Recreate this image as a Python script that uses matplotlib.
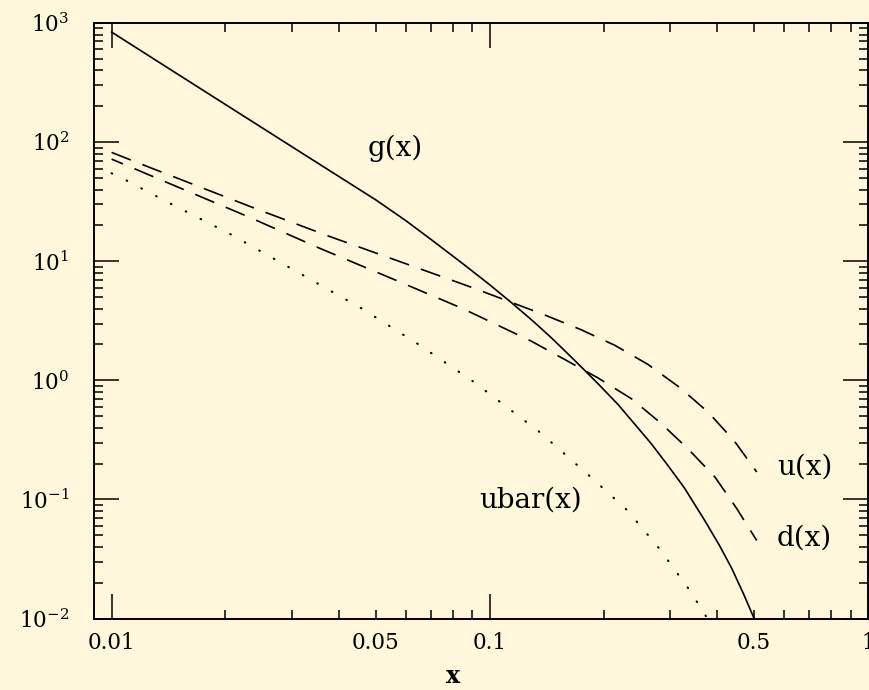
import math
import matplotlib
matplotlib.use("Agg")
import matplotlib.pyplot as plt
from matplotlib.ticker import FixedLocator, LogLocator, FuncFormatter, NullFormatter

# parton densities (x, x-dependent density)
g_x = [0.01, 0.015, 0.02, 0.03, 0.04, 0.05, 0.06, 0.07, 0.085, 0.1, 0.114, 0.13, 0.145, 0.16, 0.177,
       0.195, 0.218, 0.24, 0.267, 0.295, 0.327, 0.37, 0.405, 0.436, 0.47, 0.5]
g_y = [840, 370, 207, 91.4, 51.2, 32.7, 21.9, 15.2, 9.5, 6.34, 4.5, 3.15, 2.3, 1.7, 1.24,
       0.91, 0.63, 0.44, 0.295, 0.195, 0.125, 0.0667, 0.041, 0.0265, 0.0158, 0.01]

u_x = [0.01, 0.0125, 0.024, 0.037, 0.058, 0.09, 0.139, 0.173, 0.214, 0.262, 0.318, 0.378, 0.443, 0.508]
u_y = [82, 62, 27.7, 16.5, 9.9, 6.0, 3.56, 2.69, 1.97, 1.36, 0.87, 0.54, 0.31, 0.17]

d_x = [0.01, 0.0108, 0.023, 0.0356, 0.0546, 0.0847, 0.1285, 0.157, 0.193, 0.237, 0.281, 0.334, 0.394, 0.45, 0.508]
d_y = [72, 65, 23.6, 12.8, 7.24, 4.01, 2.14, 1.51, 1.05, 0.70, 0.447, 0.267, 0.154, 0.0836, 0.0452]

ubar_x = [0.01, 0.0109, 0.0143, 0.0206, 0.0321, 0.0459, 0.0647, 0.0908, 0.136, 0.185, 0.231, 0.281, 0.338, 0.374]
ubar_y = [54.8, 48.0, 30.5, 16.9, 7.62, 4.0, 2.01, 0.968, 0.364, 0.154, 0.081, 0.0385, 0.0172, 0.0103]

x_major = [0.01, 0.1, 1.0]
x_labelled_minor = {0.05: "0.05", 0.5: "0.5"}

bg = "#fef7dc"
plt.rcParams['lines.scale_dashes'] = False
plt.rcParams['mathtext.fontset'] = 'dejavuserif'
plt.rcParams['font.family'] = 'DejaVu Serif'

fig = plt.figure(figsize=(8.69, 6.90), dpi=100, facecolor=bg)
ax = fig.add_axes([0.1085, 0.1036, 0.8903, 0.863], facecolor=bg)

ax.plot(g_x, g_y, color='black', lw=1.2)
ax.plot(u_x, u_y, color='black', lw=1.2, linestyle=(0, (14.8, 9.0)))
ax.plot(d_x, d_y, color='black', lw=1.2, linestyle=(6, (14.8, 9.0)))
ax.plot(ubar_x, ubar_y, color='black', lw=1.5, linestyle=(0, (0.5, 11.5)),
        dash_capstyle='round')

ax.set_xscale('log')
ax.set_yscale('log')
ax.set_xlim(0.009, 1.0)
ax.set_ylim(1e-2, 1e3)

ax.xaxis.set_major_locator(FixedLocator(x_major))
ax.xaxis.set_minor_locator(LogLocator(base=10, subs=range(2, 10), numticks=20))
ax.xaxis.set_major_formatter(FuncFormatter(lambda v, p: f"{v:g}"))
ax.xaxis.set_minor_formatter(FuncFormatter(
    lambda v, p: next((s for k, s in x_labelled_minor.items() if abs(v - k) < 1e-6 * k), "")))

ax.yaxis.set_major_locator(FixedLocator([1e-2, 1e-1, 1e0, 1e1, 1e2, 1e3]))
ax.yaxis.set_minor_locator(LogLocator(base=10, subs=range(2, 10), numticks=20))
ax.yaxis.set_major_formatter(FuncFormatter(lambda v, p: r"$10^{%d}$" % round(math.log10(v))))
ax.yaxis.set_minor_formatter(NullFormatter())

ax.tick_params(which='both', direction='in', top=True, right=True,
               colors='black', labelsize=15.5)
ax.tick_params(which='major', length=18, width=1.1)
ax.tick_params(which='minor', length=6.5, width=1.1)
ax.tick_params(axis='x', which='both', pad=10)
ax.tick_params(axis='y', which='both', pad=18)

for sp in ax.spines.values():
    sp.set_linewidth(1.4)

ax.set_xlabel("x", fontsize=17, fontweight='bold', va='center')
ax.xaxis.set_label_coords(0.464, -0.097)

ax.text(0.0561, 89, "g(x)", fontsize=20, ha='center', va='center')
ax.text(0.68, 0.187, "u(x)", fontsize=20, ha='center', va='center')
ax.text(0.68, 0.0474, "d(x)", fontsize=20, ha='center', va='center')
ax.text(0.1285, 0.0989, "ubar(x)", fontsize=20, ha='center', va='center')

fig.savefig("out.png", dpi=100, facecolor=bg)
